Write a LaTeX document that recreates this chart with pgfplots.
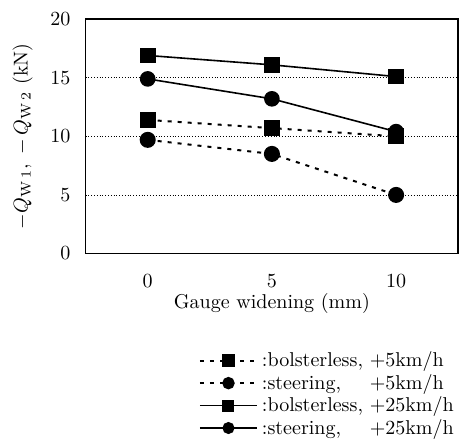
\documentclass[border=0pt]{standalone}
\usepackage{pgfplots}
\pgfplotsset{compat=1.18}
\usepackage{calc}
\newcommand{\lbl}[2]{:\makebox[\widthof{bolsterless,\ }][l]{#1}#2}
\begin{document}
\begin{tikzpicture}
\begin{axis}[
  scale only axis,
  width=186pt, height=117pt,
  xmin=-2.5, xmax=12.5,
  ymin=0, ymax=20,
  xtick={0,5,10},
  extra x ticks={2.5,7.5},
  extra x tick labels={},
  extra x tick style={major tick length=2.5pt, tick style={black}, grid=none},
  major x tick style={draw=none},
  ytick={0,5,10,15,20},
  major y tick style={draw=none},
  ymajorgrids,
  grid style={black, densely dotted, line width=0.4pt},
  axis line style={line width=0.8pt},
  xtick pos=bottom,
  tick align=inside,
  xticklabel style={yshift=-7pt},
  yticklabel style={xshift=-4pt},
  xlabel={Gauge widening (mm)},
  xlabel style={yshift=4pt},
  ylabel={$-Q_{\mathrm{W\,1}},\ -\,Q_{\mathrm{W\,2}}$ (kN)},
  ylabel style={yshift=2pt},
  legend style={draw=none, fill=none, at={(axis description cs:1,-0.40)}, anchor=north east,
    font=\normalsize, row sep=-1.8pt, inner sep=0pt,
    legend cell align=left},
  legend image code/.code={\draw[mark repeat=2, mark phase=2, mark size=2.6pt] plot coordinates {(0cm,0cm) (0.5cm,0cm) (1cm,0cm)};},
]
\addplot[black, line width=1pt, dash pattern=on 2pt off 3pt, mark=square*, mark size=3.5pt, mark options={solid}]
  coordinates {(0,11.4) (5,10.7) (10,10.0)};
\addlegendentry{\lbl{bolsterless,}{+5km/h}}
\addplot[black, line width=1pt, dash pattern=on 2pt off 3pt, mark=*, mark size=3.5pt, mark options={solid}]
  coordinates {(0,9.7) (5,8.5) (10,5.0)};
\addlegendentry{\lbl{steering,}{+5km/h}}
\addplot[black, line width=0.8pt, mark=square*, mark size=3.5pt]
  coordinates {(0,16.9) (5,16.1) (10,15.1)};
\addlegendentry{\lbl{bolsterless,}{+25km/h}}
\addplot[black, line width=0.8pt, mark=*, mark size=3.5pt]
  coordinates {(0,14.9) (5,13.2) (10,10.4)};
\addlegendentry{\lbl{steering,}{+25km/h}}
\end{axis}
\path (current bounding box.north west) ++(-3pt,3pt) coordinate (pad);
\end{tikzpicture}
\end{document}
